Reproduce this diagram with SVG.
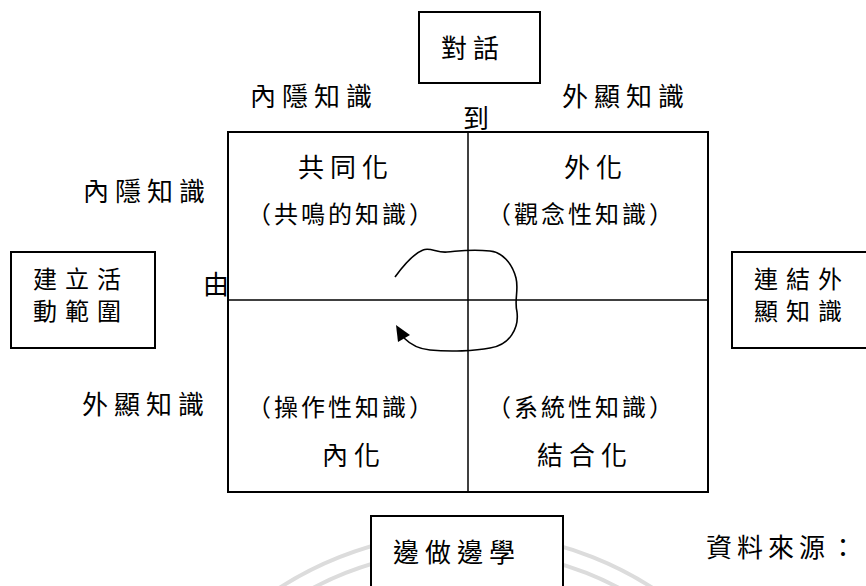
<svg xmlns="http://www.w3.org/2000/svg" width="866" height="586" viewBox="0 0 866 586">
<style>
text{font-family:"Noto Sans CJK TC","Noto Sans CJK SC",sans-serif;fill:#000}
.t{font-size:26px;letter-spacing:6px}
.s{font-size:24px;letter-spacing:8px}
.p{font-size:24px;letter-spacing:3px}
.box{fill:#fff;stroke:#000;stroke-width:2}
.div{stroke:#000;stroke-width:1.5;fill:none}
.wm{fill:none;stroke:#dcdcdc;stroke-width:4}
</style>
<rect width="866" height="586" fill="#fff"/>
<g id="watermark">
<circle class="wm" cx="466" cy="877" r="344"/>
<circle class="wm" cx="466" cy="877" r="327"/>
</g>
<g id="dialog">
<rect class="box" x="419" y="12" width="121" height="71"/>
<text class="t" x="441" y="58">對話</text>
</g>
<g id="axis-labels">
<text class="t" x="250" y="106">內隱知識</text>
<text class="t" x="562" y="106">外顯知識</text>
<text class="t" x="463" y="128">到</text>
<text class="t" x="83" y="201">內隱知識</text>
<text class="t" x="82" y="414">外顯知識</text>
<text class="t" x="203" y="294">由</text>
</g>
<g id="matrix">
<rect class="box" x="228" y="132" width="480" height="360"/>
<line class="div" x1="468" y1="132" x2="468" y2="492"/>
<line class="div" x1="228" y1="300" x2="708" y2="300"/>
</g>
<g id="socialization">
<text class="t" x="298" y="177">共同化</text>
<text class="p" x="247" y="223">（共鳴的知識）</text>
</g>
<g id="externalization">
<text class="t" x="564" y="177">外化</text>
<text class="p" x="487" y="223">（觀念性知識）</text>
</g>
<g id="internalization">
<text class="p" x="247" y="416">（操作性知識）</text>
<text class="t" x="322" y="465">內化</text>
</g>
<g id="combination">
<text class="p" x="487" y="416">（系統性知識）</text>
<text class="t" x="537" y="465">結合化</text>
</g>
<g id="field-building">
<rect class="box" x="11" y="252" width="144" height="96"/>
<text class="s" x="33" y="288">建立活</text>
<text class="s" x="33" y="320">動範圍</text>
</g>
<g id="linking">
<rect class="box" x="732" y="252" width="140" height="96"/>
<text class="s" x="754" y="288">連結外</text>
<text class="s" x="754" y="320">顯知識</text>
</g>
<g id="learning-by-doing">
<rect class="box" x="371" y="516" width="192" height="80"/>
<text class="t" x="393" y="562">邊做邊學</text>
</g>
<g id="source">
<text class="t" x="706" y="557" style="letter-spacing:5px">資料來源：</text>
</g>
<g id="connectors">
<path d="M395,277 C403,266 413,254 423,250 C430,247 437,253 447,252 C460,251 470,249 490,251 C502,252 512,263 516,278 C519,290 514,300 517,312 C519,328 510,345 490,348 C475,351 450,352 430,350 C418,349 410,344 404,338" fill="none" stroke="#000" stroke-width="1.6"/>
<polygon points="396,325 410,335 398,342" fill="#000"/>
</g>
</svg>
